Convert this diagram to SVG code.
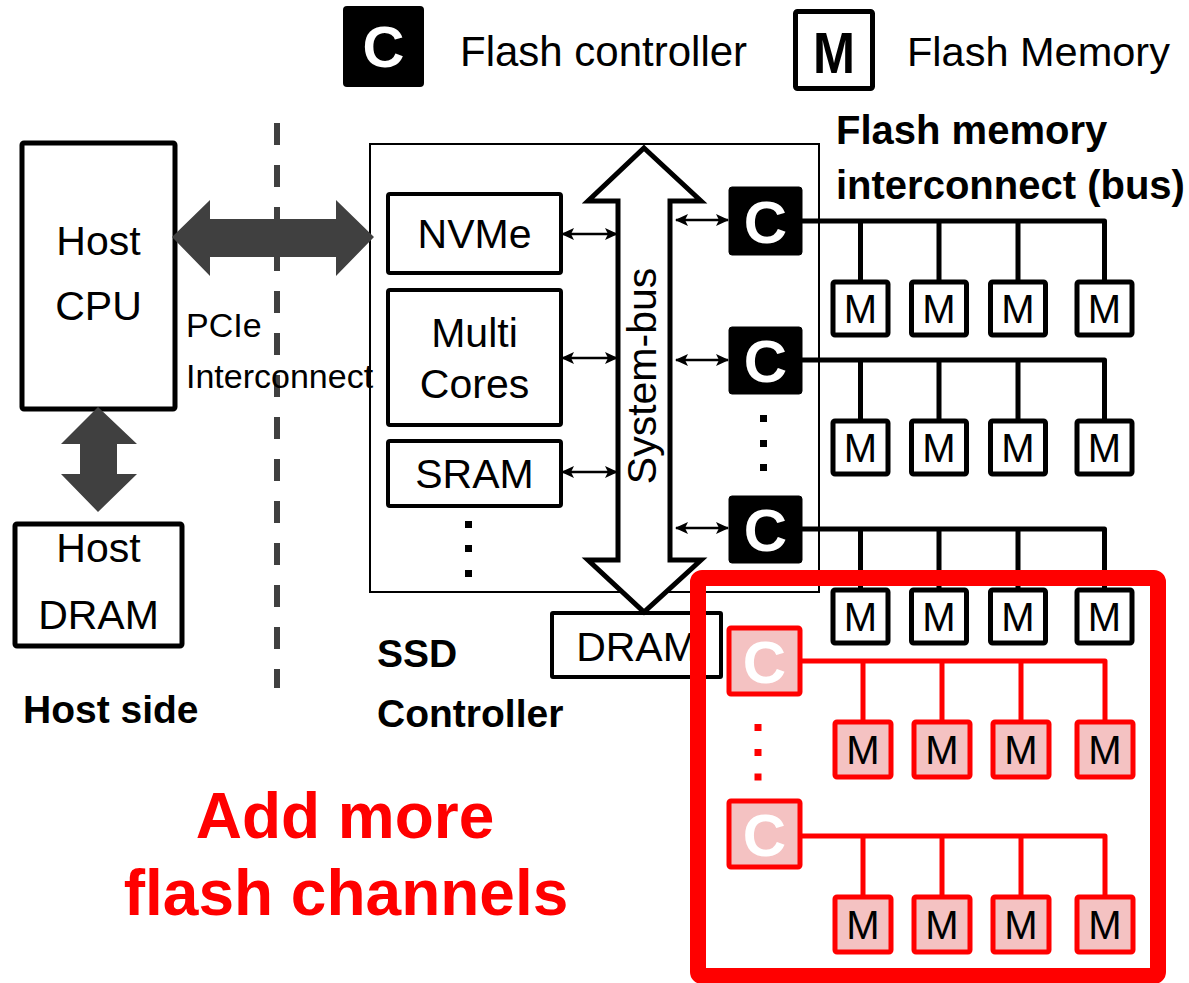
<svg xmlns="http://www.w3.org/2000/svg" width="1189" height="983" viewBox="0 0 1189 983">
<style>
.t{font-family:"Liberation Sans",Arial,sans-serif;font-size:41px;fill:#000}
.b{font-family:"Liberation Sans",Arial,sans-serif;font-weight:bold;font-size:39px;fill:#000}
.box{fill:#fff;stroke:#000;stroke-width:5}
.ibox{fill:#fff;stroke:#000;stroke-width:4}
.cbox{fill:#000;stroke:#000;stroke-width:1}
.ct{font-family:"Liberation Sans",Arial,sans-serif;font-weight:bold;font-size:60px;fill:#fff;text-anchor:middle}
.mbox{fill:#fff;stroke:#000;stroke-width:5}
.mt{font-family:"Liberation Sans",Arial,sans-serif;font-size:40px;fill:#000;text-anchor:middle}
.rc{fill:#f4c2c2;stroke:#ff0000;stroke-width:5}
.bus{fill:none;stroke:#000;stroke-width:5;stroke-linejoin:round}
.rbus{fill:none;stroke:#ff0000;stroke-width:5;stroke-linejoin:round}
.sa{stroke:#000;stroke-width:2.5;fill:none;marker-start:url(#ah);marker-end:url(#ah)}
.dg{fill:#404040}
.mid{text-anchor:middle}
</style>
<defs>
<marker id="ah" viewBox="0 0 13 12" refX="12" refY="6" markerWidth="13" markerHeight="12" orient="auto-start-reverse" markerUnits="userSpaceOnUse">
<path d="M0,0 L13,6 L0,12 L3,6 z" fill="#000"/>
</marker>
</defs>
<rect width="1189" height="983" fill="#fff"/>

<g id="legend">
<rect x="343" y="6" width="81" height="81" rx="4" fill="#000"/>
<text x="383.5" y="67" class="ct" style="font-size:58px">C</text>
<text x="460" y="66" class="t" style="font-size:42px">Flash controller</text>
<rect x="795.5" y="11.5" width="77" height="77" rx="2" fill="#fff" stroke="#000" stroke-width="5"/>
<text x="834" y="73" class="b mid" style="font-size:58px" textLength="42" lengthAdjust="spacingAndGlyphs">M</text>
<text x="907" y="66" class="t" style="font-size:41.5px">Flash Memory</text>
</g>

<g id="divider">
<line x1="277" y1="123" x2="277" y2="688" stroke="#404040" stroke-width="6" stroke-dasharray="22 20"/>
</g>

<g id="host-cpu">
<rect x="22" y="143" width="153" height="266" rx="2" class="box"/>
<text x="98.5" y="255" class="t mid">Host</text>
<text x="98.5" y="320" class="t mid">CPU</text>
</g>

<g id="host-dram">
<rect x="15" y="524" width="167" height="122" rx="2" class="box"/>
<text x="98.5" y="562" class="t mid">Host</text>
<text x="98.5" y="629" class="t mid">DRAM</text>
</g>

<g id="host-side-label">
<text x="23" y="723" class="b">Host side</text>
</g>

<g id="ssd-controller">
<rect x="370" y="144" width="449" height="448" fill="none" stroke="#000" stroke-width="2"/>
</g>

<g id="nvme">
<rect x="388" y="194" width="173" height="79" rx="2" class="ibox"/>
<text x="474.5" y="248" class="t mid">NVMe</text>
</g>
<g id="multi-cores">
<rect x="388" y="290" width="173" height="135" rx="2" class="ibox"/>
<text x="474.5" y="347" class="t mid">Multi</text>
<text x="474.5" y="398" class="t mid">Cores</text>
</g>
<g id="sram">
<rect x="388" y="441" width="173" height="65" rx="2" class="ibox"/>
<text x="474.5" y="488" class="t mid">SRAM</text>
</g>
<g id="ssd-dots">
<rect x="465" y="521" width="7" height="7"/>
<rect x="465" y="545" width="7" height="7"/>
<rect x="465" y="570" width="7" height="7"/>
</g>

<g id="ssd-label">
<text x="377" y="667" class="b">SSD</text>
<text x="377" y="727" class="b">Controller</text>
</g>

<g id="dram">
<rect x="552" y="613" width="169" height="64" rx="1" fill="#fff" stroke="#000" stroke-width="4"/>
<text x="636.5" y="661" class="t mid">DRAM</text>
</g>

<g id="system-bus">
<polygon points="644,148 701,201 670,201 670,560 701,560 644,612 588,560 618,560 618,201 588,201" fill="#fff" stroke="#000" stroke-width="5" stroke-linejoin="miter"/>
<text transform="translate(656,376) rotate(-90)" class="t mid">System-bus</text>
</g>

<g id="pcie-label">
<text x="186" y="337" class="t" style="font-size:34px">PCIe</text>
<text x="186" y="388" class="t" style="font-size:34px">Interconnect</text>
</g>

<g id="connectors">
<polygon class="dg" points="172,237 210,200 210,219 336,219 336,200 374,237 336,276 336,257 210,257 210,276"/>
<polygon class="dg" points="98,407 137,444 117,444 117,474 137,474 98,512 61,474 80,474 80,444 61,444"/>
<line class="sa" x1="562" y1="234" x2="617" y2="234"/>
<line class="sa" x1="562" y1="358" x2="617" y2="358"/>
<line class="sa" x1="562" y1="472" x2="617" y2="472"/>
<line class="sa" x1="676" y1="220" x2="728" y2="220"/>
<line class="sa" x1="676" y1="360" x2="728" y2="360"/>
<line class="sa" x1="676" y1="528" x2="728" y2="528"/>
<path class="bus" d="M802 221 H1104.5 V282 M860.5 221 V282 M939 221 V282 M1018 221 V282"/>
<path class="bus" d="M802 360 H1104.5 V421 M860.5 360 V421 M939 360 V421 M1018 360 V421"/>
<path class="bus" d="M802 529 H1104.5 V590 M860.5 529 V590 M939 529 V590 M1018 529 V590"/>
<path class="rbus" d="M800 661 H1105 V722 M863 661 V722 M942 661 V722 M1021 661 V722"/>
<path class="rbus" d="M800 836 H1105 V897 M863 836 V897 M942 836 V897 M1021 836 V897"/>
</g>

<g id="flash-label">
<text x="836" y="144" class="b" style="font-size:40px">Flash memory</text>
<text x="836" y="199" class="b" style="font-size:40px">interconnect (bus)</text>
</g>

<g id="ch1-controller">
<rect x="729" y="187" width="73" height="68" rx="3" class="cbox"/>
<text x="765.5" y="243" class="ct">C</text>
</g>
<g id="ch1-memories">
<rect x="833" y="282" width="55" height="53" rx="2" class="mbox"/><text x="860.5" y="323" class="mt">M</text>
<rect x="911.5" y="282" width="55" height="53" rx="2" class="mbox"/><text x="939" y="323" class="mt">M</text>
<rect x="990.5" y="282" width="55" height="53" rx="2" class="mbox"/><text x="1018" y="323" class="mt">M</text>
<rect x="1077" y="282" width="55" height="53" rx="2" class="mbox"/><text x="1104.5" y="323" class="mt">M</text>
</g>

<g id="ch2-controller">
<rect x="729" y="327" width="73" height="67" rx="3" class="cbox"/>
<text x="765.5" y="382" class="ct">C</text>
</g>
<g id="ch2-memories">
<rect x="833" y="421" width="55" height="53" rx="2" class="mbox"/><text x="860.5" y="462" class="mt">M</text>
<rect x="911.5" y="421" width="55" height="53" rx="2" class="mbox"/><text x="939" y="462" class="mt">M</text>
<rect x="990.5" y="421" width="55" height="53" rx="2" class="mbox"/><text x="1018" y="462" class="mt">M</text>
<rect x="1077" y="421" width="55" height="53" rx="2" class="mbox"/><text x="1104.5" y="462" class="mt">M</text>
</g>

<g id="ch-dots">
<rect x="760" y="415" width="7" height="7"/>
<rect x="760" y="440" width="7" height="7"/>
<rect x="760" y="464" width="7" height="7"/>
</g>

<g id="ch3-controller">
<rect x="729" y="496" width="73" height="67" rx="3" class="cbox"/>
<text x="765.5" y="551" class="ct">C</text>
</g>

<g id="added-channels-frame">
<rect x="698" y="578" width="460" height="398" rx="4" fill="none" stroke="#ff0000" stroke-width="16"/>
</g>

<g id="ch3-memories">
<rect x="833" y="590" width="55" height="53" rx="2" class="mbox"/><text x="860.5" y="631" class="mt">M</text>
<rect x="911.5" y="590" width="55" height="53" rx="2" class="mbox"/><text x="939" y="631" class="mt">M</text>
<rect x="990.5" y="590" width="55" height="53" rx="2" class="mbox"/><text x="1018" y="631" class="mt">M</text>
<rect x="1077" y="590" width="55" height="53" rx="2" class="mbox"/><text x="1104.5" y="631" class="mt">M</text>
</g>

<g id="new-ch1-controller">
<rect x="729" y="628" width="71" height="66" rx="2" class="rc"/>
<text x="764.5" y="683" class="ct">C</text>
</g>
<g id="new-ch1-memories">
<rect x="835" y="722" width="56" height="55" rx="2" class="rc"/><text x="863" y="764" class="mt">M</text>
<rect x="914" y="722" width="56" height="55" rx="2" class="rc"/><text x="942" y="764" class="mt">M</text>
<rect x="993" y="722" width="56" height="55" rx="2" class="rc"/><text x="1021" y="764" class="mt">M</text>
<rect x="1077" y="722" width="56" height="55" rx="2" class="rc"/><text x="1105" y="764" class="mt">M</text>
</g>

<g id="new-ch-dots" fill="#ff0000">
<rect x="754.5" y="724" width="7" height="7"/>
<rect x="754.5" y="749" width="7" height="7"/>
<rect x="754.5" y="773.5" width="7" height="7"/>
</g>

<g id="new-ch2-controller">
<rect x="729" y="801" width="71" height="66" rx="2" class="rc"/>
<text x="764.5" y="856" class="ct">C</text>
</g>
<g id="new-ch2-memories">
<rect x="835" y="897" width="56" height="55" rx="2" class="rc"/><text x="863" y="939" class="mt">M</text>
<rect x="914" y="897" width="56" height="55" rx="2" class="rc"/><text x="942" y="939" class="mt">M</text>
<rect x="993" y="897" width="56" height="55" rx="2" class="rc"/><text x="1021" y="939" class="mt">M</text>
<rect x="1077" y="897" width="56" height="55" rx="2" class="rc"/><text x="1105" y="939" class="mt">M</text>
</g>

<g id="add-more-label">
<text x="345" y="838" class="b mid" style="font-size:64px;fill:#ff0000">Add more</text>
<text x="346" y="915" class="b mid" style="font-size:64px;fill:#ff0000">flash channels</text>
</g>
</svg>
